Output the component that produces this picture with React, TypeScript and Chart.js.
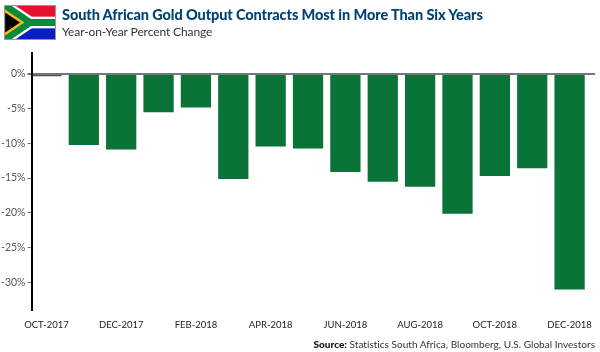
import React, { useEffect, useRef } from "react";
import { Chart, registerables } from "chart.js";

Chart.register(...registerables);

const categories = ["OCT-2017","NOV-2017","DEC-2017","JAN-2018","FEB-2018","MAR-2018","APR-2018","MAY-2018","JUN-2018","JUL-2018","AUG-2018","SEP-2018","OCT-2018","NOV-2018","DEC-2018"];
const outputChange = [-0.3,-10.2,-10.85,-5.5,-4.8,-15.1,-10.4,-10.7,-14.1,-15.5,-16.2,-20.1,-14.65,-13.55,-31];
const xTickPositions = [0,2,4,6,8,10,12,14];
const yTickValues = [0,-5,-10,-15,-20,-25,-30];

const TITLE = "South African Gold Output Contracts Most in More Than Six Years";
const SUBTITLE = "Year-on-Year Percent Change";

function Flag() {
  return (
    <svg width="52" height="35" viewBox="0 0 90 60" preserveAspectRatio="none"
      style={{ position: "absolute", left: 4, top: 5, outline: "1px solid #999", outlineOffset: -1 }}>
      <rect width="90" height="30" fill="#e8112d" />
      <rect y="30" width="90" height="30" fill="#0a1ec8" />
      <path d="M0 0 L45 30 L0 60 Z" fill="#000" />
      <path d="M0 0 L45 30 L0 60" fill="none" stroke="#fff" strokeWidth="20" />
      <path d="M45 30 H90" stroke="#fff" strokeWidth="20" />
      <path d="M0 0 L45 30 L0 60" fill="none" stroke="#0a8a3c" strokeWidth="12" />
      <path d="M45 30 H90" stroke="#0a8a3c" strokeWidth="12" />
      <path d="M0 9 L31.5 30 L0 51 Z" fill="#000" stroke="#ffb81c" strokeWidth="4" />
    </svg>
  );
}

export default function App() {
  const ref = useRef<HTMLCanvasElement>(null);
  useEffect(() => {
    const chart = new Chart(ref.current!, {
      type: "bar",
      data: {
        datasets: [{
          data: outputChange.map((y, x) => ({ x, y })),
          backgroundColor: "#0a7338",
          barThickness: 29.6,
          borderSkipped: false,
        }],
      },
      options: {
        animation: false,
        responsive: false,
        clip: false as any,
        layout: { padding: { top: 53, right: 5, bottom: 0, left: 0 } },
        plugins: { legend: { display: false }, tooltip: { enabled: false }, title: { display: false } },
        scales: {
          x: {
            type: "linear",
            offset: false,
            min: -0.4,
            max: 14.68,
            afterBuildTicks: (s: any) => { s.ticks = xTickPositions.map((value) => ({ value })); },
            afterFit: (s: any) => { s.height = 42; },
            grid: { display: false },
            border: { display: false },
            ticks: {
              autoSkip: false,
              maxRotation: 0,
              padding: 1,
              color: "#222",
              font: { family: "Lato", size: 9.5 },
              callback: (v: any) => categories[v as number],
            },
          },
          y: {
            min: -34,
            max: 3,
            afterBuildTicks: (s: any) => { s.ticks = yTickValues.map((value) => ({ value })); },
            afterFit: (s: any) => { s.width = 31.5; },
            border: { display: true, color: "#000", width: 2, z: 2 },
            grid: {
              z: 1,
              drawTicks: true,
              tickLength: 4,
              tickColor: "#777",
              color: (c: any) => (c.tick && c.tick.value === 0 ? "#777" : "rgba(0,0,0,0)"),
              lineWidth: (c: any) => (c.tick && c.tick.value === 0 ? 2 : 1),
            },
            ticks: {
              padding: 2,
              color: "#555",
              font: { family: "Lato", size: 10.5 },
              callback: (v: any) => `${v}%`,
            },
          },
        },
      },
    });
    return () => chart.destroy();
  }, []);

  return (
    <div style={{ position: "absolute", left: 0, top: 0, width: 600, height: 352, overflow: "hidden", background: "#fff", fontFamily: "Lato" }}>
      <canvas ref={ref} width={600} height={352} style={{ position: "absolute", left: 0, top: 0 }} />
      <Flag />
      <div style={{ position: "absolute", left: 62, top: 5, fontSize: 14.5, lineHeight: "20px", fontWeight: 900, color: "#004476", whiteSpace: "nowrap", letterSpacing: -0.1 }}>{TITLE}</div>
      <div style={{ position: "absolute", left: 62, top: 24, fontSize: 12, lineHeight: "16px", color: "#333", whiteSpace: "nowrap", letterSpacing: -0.1 }}>{SUBTITLE}</div>
      <div style={{ position: "absolute", right: 5, top: 337, fontSize: 10, lineHeight: "14px", color: "#333", whiteSpace: "nowrap", letterSpacing: 0.03 }}>
        <b style={{ fontWeight: 900, color: "#111" }}>Source:</b> Statistics South Africa, Bloomberg, U.S. Global Investors
      </div>
    </div>
  );
}
